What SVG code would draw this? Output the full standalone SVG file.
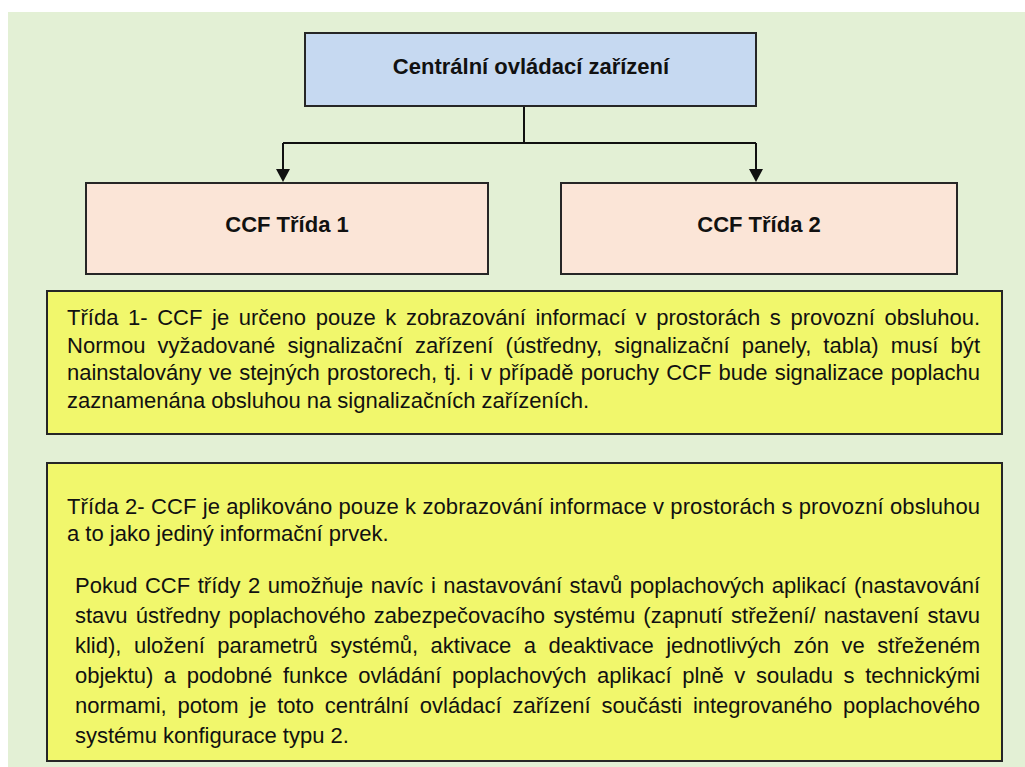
<svg xmlns="http://www.w3.org/2000/svg" width="1025" height="767" viewBox="0 0 1025 767">
<style>
.box{stroke:#262626;stroke-width:2}
.blue{fill:#C6D9F1}
.peach{fill:#FBE5D7}
.yellow{fill:#F1F76C}
.h{font-family:"Liberation Sans",Arial,sans-serif;font-weight:bold;font-size:22px;fill:#111;text-anchor:middle}
.t{font-family:"Liberation Sans",Arial,sans-serif;font-size:22px;fill:#111}
.conn{stroke:#111;stroke-width:2;fill:none}
</style>
<defs>
<marker id="arr" markerWidth="14" markerHeight="13" refX="7" refY="12" orient="auto-start-reverse" markerUnits="userSpaceOnUse" viewBox="0 0 14 13">
<path d="M0,0 L14,0 L7,13 Z" fill="#111" transform="rotate(0)"/>
</marker>
</defs>
<rect x="0" y="0" width="1025" height="767" fill="#FFFFFF"/>
<rect x="8" y="12" width="1017" height="755" fill="#E3F0D5"/>
<g id="connectors">
<path class="conn" d="M524,106 V143"/>
<path class="conn" d="M283,143 H756"/>
<line x1="283" y1="143" x2="283" y2="170" class="conn"/>
<path d="M276,169 L290,169 L283,182 Z" fill="#111"/>
<line x1="756" y1="143" x2="756" y2="170" class="conn"/>
<path d="M749,169 L763,169 L756,182 Z" fill="#111"/>
</g>
<g id="node-central">
<rect class="box blue" x="305" y="33" width="451" height="73"/>
<text class="h" x="531" y="74">Centrální ovládací zařízení</text>
</g>
<g id="node-ccf1">
<rect class="box peach" x="86" y="183" width="402" height="91"/>
<text class="h" x="287" y="232">CCF Třída 1</text>
</g>
<g id="node-ccf2">
<rect class="box peach" x="561" y="183" width="396" height="91"/>
<text class="h" x="759" y="232">CCF Třída 2</text>
</g>
<g id="note-trida1">
<rect class="box yellow" x="47" y="291" width="955" height="143"/>
<text class="t" x="67" y="325" word-spacing="3.5" textLength="913" lengthAdjust="spacing">Třída 1- CCF je určeno pouze k zobrazování informací v prostorách s provozní obsluhou.</text>
<text class="t" x="67" y="352.5" word-spacing="5.9" textLength="913" lengthAdjust="spacing">Normou vyžadované signalizační zařízení (ústředny, signalizační panely, tabla) musí být</text>
<text class="t" x="67" y="380" word-spacing="1.1" textLength="913" lengthAdjust="spacing">nainstalovány ve stejných prostorech, tj. i v případě poruchy CCF bude signalizace poplachu</text>
<text class="t" x="67" y="407.5">zaznamenána obsluhou na signalizačních zařízeních.</text>
</g>
<g id="note-trida2">
<rect class="box yellow" x="47" y="463" width="955" height="298"/>
<text class="t" x="67" y="514" textLength="913" lengthAdjust="spacing">Třída 2- CCF je aplikováno pouze k zobrazování informace v prostorách s provozní obsluhou</text>
<text class="t" x="67" y="541">a to jako jediný informační prvek.</text>
<text class="t" x="75" y="593" word-spacing="1.4" textLength="905" lengthAdjust="spacing">Pokud CCF třídy 2 umožňuje navíc i nastavování stavů poplachových aplikací (nastavování</text>
<text class="t" x="75" y="623" word-spacing="2.1" textLength="905" lengthAdjust="spacing">stavu ústředny poplachového zabezpečovacího systému (zapnutí střežení/ nastavení stavu</text>
<text class="t" x="75" y="653" word-spacing="6.4" textLength="905" lengthAdjust="spacing">klid), uložení parametrů systémů, aktivace a deaktivace jednotlivých zón ve střeženém</text>
<text class="t" x="75" y="683" word-spacing="4.5" textLength="905" lengthAdjust="spacing">objektu) a podobné funkce ovládání poplachových aplikací plně v souladu s technickými</text>
<text class="t" x="75" y="713" word-spacing="4.7" textLength="905" lengthAdjust="spacing">normami, potom je toto centrální ovládací zařízení součásti integrovaného poplachového</text>
<text class="t" x="75" y="743">systému konfigurace typu 2.</text>
</g>
</svg>
